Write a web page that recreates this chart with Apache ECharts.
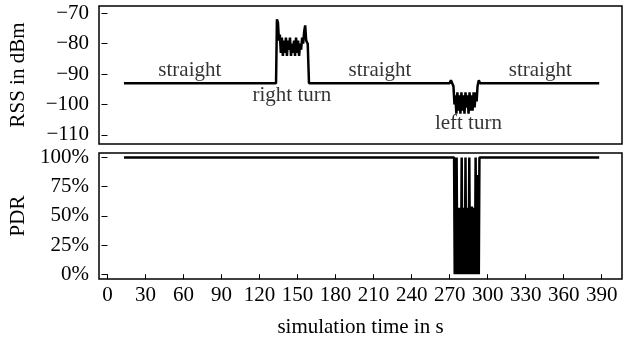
<!DOCTYPE html>
<html>
<head>
<meta charset="utf-8">
<script src="https://cdn.jsdelivr.net/npm/echarts@6/dist/echarts.min.js"></script>
<style>
  html, body { margin: 0; padding: 0; background: #fff; }
  #chart { width: 626px; height: 339px; }
</style>
</head>
<body>
<div id="chart"></div>
<script>
// tick positions
var timeTicks = [0, 30, 60, 90, 120, 150, 180, 210, 240, 270, 300, 330, 360, 390];
var rssTicks = [-110, -100, -90, -80, -70];
var pdrTicks = [0, 25, 50, 75, 100];

// RSS trace [time in s, dBm]
var rssPoints = [
  [13, -93], [133, -93], [133.7, -72], [134.5, -73], [135.3, -79], [136, -77],
  [136.8, -83], [137.6, -78], [138.4, -84], [139.2, -79], [140, -83], [140.8, -78],
  [141.6, -84], [142.4, -79], [143.2, -82], [144, -78], [144.8, -84], [145.6, -80],
  [146.4, -83], [147.2, -79], [148, -84], [148.8, -78], [149.6, -83], [150.4, -79],
  [151.2, -84], [152, -80], [152.8, -82], [153.6, -78], [154.4, -80], [155.2, -76],
  [156, -74], [156.8, -79], [158, -80], [159, -93],
  [270, -93], [271, -92], [272, -93], [273, -94], [273.8, -100], [274.5, -97],
  [275.3, -103], [276.1, -96], [276.9, -102], [277.7, -97], [278.5, -103], [279.3, -96],
  [280.1, -102], [280.9, -97], [281.7, -103], [282.5, -96], [283.3, -101], [284.1, -97],
  [284.9, -103], [285.7, -96], [286.5, -102], [287.3, -97], [288.1, -102], [288.9, -96],
  [289.7, -101], [290.5, -96], [291.3, -99], [292, -94], [293, -92], [294, -93],
  [388, -93]
];

// PDR trace [time in s, %]
var pdrPoints = [
  [13, 100], [273.5, 100], [274, 0], [274.5, 0], [275, 55], [275.5, 100],
  [276, 0], [276.5, 57], [277, 0], [277.5, 55], [278, 0], [278.5, 57],
  [279, 0], [279.5, 100], [280, 0], [280.5, 56], [281, 0], [281.5, 57],
  [282, 0], [282.5, 100], [283, 0], [283.5, 55], [284, 0], [284.5, 57],
  [285, 0], [285.5, 100], [286, 0], [286.5, 56], [287, 0], [287.5, 58],
  [288, 0], [288.5, 55], [289, 0], [289.5, 57], [290, 0], [290.5, 100],
  [291, 0], [291.5, 85], [292, 0], [292.5, 62], [293, 0], [293.5, 100],
  [388, 100]
];

// phase annotations
var phaseText = ['straight', 'right turn', 'straight', 'left turn', 'straight'];
var phaseTime = [65, 145.5, 215, 284.8, 341.5];
var phaseRss = [-88.7, -97.2, -88.7, -106.4, -88.7];

var font = 'Liberation Serif';
var fontSize = 21;

var myChart = echarts.init(document.getElementById('chart'), null, { renderer: 'canvas' });

function minus(v) { return v < 0 ? '\u2212' + Math.abs(v) : String(v); }

var xCommon = {
  type: 'value', min: -6.7, max: 406,
  splitLine: { show: false },
  axisLine: { show: false }
};
var yCommon = {
  type: 'value',
  splitLine: { show: false },
  axisLine: { show: false },
  nameLocation: 'middle',
  nameRotate: 90,
  nameTextStyle: { fontFamily: font, fontSize: fontSize, color: '#000' }
};

var option = {
  animation: false,
  backgroundColor: '#fff',
  grid: [
    { left: 98, right: 4, top: 6, height: 138, show: true, borderColor: '#000', borderWidth: 1.5 },
    { left: 98, right: 4, top: 153, height: 132, show: true, borderColor: '#000', borderWidth: 1.5 }
  ],
  xAxis: [
    Object.assign({}, xCommon, {
      gridIndex: 0,
      axisTick: { show: false },
      axisLabel: { show: false }
    }),
    Object.assign({}, xCommon, {
      gridIndex: 1,
      name: 'simulation time in s',
      nameLocation: 'middle',
      nameGap: 38,
      nameTextStyle: { fontFamily: font, fontSize: fontSize, color: '#000' },
      axisTick: { show: true, length: 5, lineStyle: { color: '#000', width: 1 }, customValues: timeTicks },
      axisLabel: { fontFamily: font, fontSize: fontSize, color: '#000', margin: 6, customValues: timeTicks }
    })
  ],
  yAxis: [
    Object.assign({}, yCommon, {
      gridIndex: 0, min: -113, max: -67.6,
      name: 'RSS in dBm', nameGap: 70,
      axisTick: { show: true, length: 6, lineStyle: { color: '#000', width: 1 }, customValues: rssTicks },
      axisLabel: { fontFamily: font, fontSize: fontSize, color: '#000', margin: 10, customValues: rssTicks, formatter: minus }
    }),
    Object.assign({}, yCommon, {
      gridIndex: 1, min: -4.1, max: 103.8,
      name: 'PDR', nameGap: 70,
      axisTick: { show: true, length: 6, lineStyle: { color: '#000', width: 1 }, customValues: pdrTicks },
      axisLabel: { fontFamily: font, fontSize: fontSize, color: '#000', margin: 10, customValues: pdrTicks, formatter: '{value}%' }
    })
  ],
  series: [
    {
      type: 'line', xAxisIndex: 0, yAxisIndex: 0,
      data: rssPoints, symbol: 'none',
      lineStyle: { color: '#000', width: 2.5 }
    },
    {
      type: 'line', xAxisIndex: 1, yAxisIndex: 1,
      data: pdrPoints, symbol: 'none',
      lineStyle: { color: '#000', width: 2.5 }
    },
    {
      type: 'scatter', xAxisIndex: 0, yAxisIndex: 0,
      symbolSize: 0, silent: true,
      data: phaseText.map(function (t, i) { return { value: [phaseTime[i], phaseRss[i]], name: t }; }),
      label: {
        show: true, position: 'inside',
        formatter: function (p) { return p.name; },
        fontFamily: font, fontSize: fontSize, color: '#000'
      }
    }
  ]
};

myChart.setOption(option, true);
</script>
</body>
</html>
